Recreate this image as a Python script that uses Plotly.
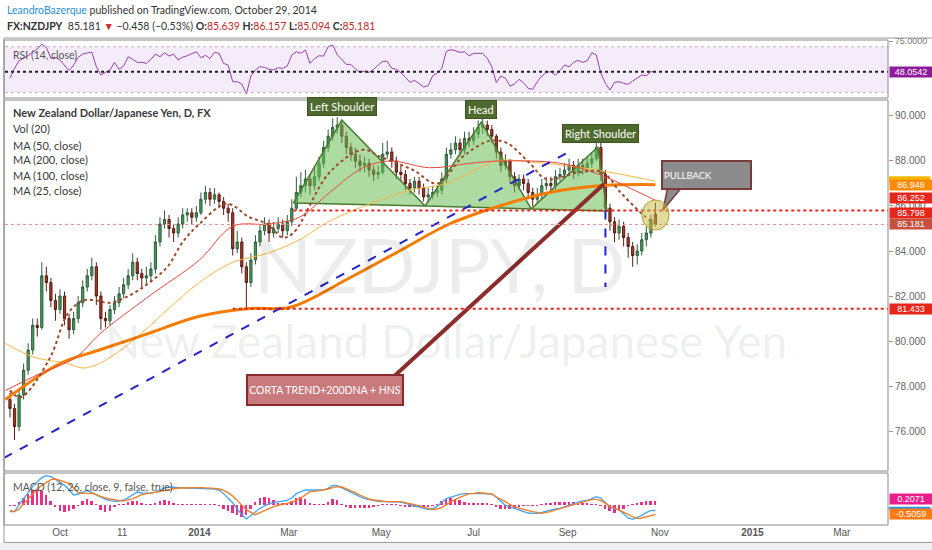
import pandas as pd
import plotly.graph_objects as go

# ---------------- data ----------------
START = "2013-08-29"
N = 143
OPEN = [77.4, 77.0, 76.2, 77.6, 78.7, 79.6, 80.7, 80.6, 82.9, 82.6,
        81.8, 81.4, 82.0, 81.0, 80.5, 81.0, 81.7, 82.4, 82.9, 83.3,
        82.0, 81.0, 80.9, 81.4, 81.7, 82.1, 82.5, 82.9, 83.5, 83.0,
        82.8, 82.9, 83.2, 84.4, 85.2, 85.4, 85.0, 84.8, 85.2, 85.6,
        85.7, 85.5, 85.7, 86.3, 86.6, 86.3, 86.5, 86.2, 85.9, 85.7,
        84.1, 84.4, 83.3, 82.6, 83.6, 84.4, 84.9, 85.2, 84.8, 85.0,
        85.2, 84.9, 85.3, 85.9, 86.6, 86.9, 87.2, 86.9, 87.3, 87.9,
        88.6, 89.1, 89.5, 89.6, 89.1, 88.6, 88.3, 88.0, 87.8, 87.9,
        87.6, 87.4, 87.5, 88.3, 88.4, 88.0, 87.5, 87.4, 87.0, 86.8,
        87.1, 86.8, 86.4, 86.5, 86.6, 86.7, 87.2, 88.3, 88.5, 88.8,
        88.5, 89.0, 88.9, 89.2, 89.5, 89.6, 89.4, 89.1, 88.4, 87.8,
        88.0, 87.3, 86.9, 87.2, 87.0, 86.6, 86.3, 86.5, 86.9, 87.0,
        86.9, 87.3, 87.4, 87.6, 87.8, 87.5, 87.8, 87.7, 87.9, 88.1,
        88.6, 87.4, 85.9, 85.3, 84.8, 85.1, 84.6, 84.2, 83.8, 84.0,
        84.5, 84.8, 85.639]
HIGH = [77.7, 77.2, 77.8, 79.0, 79.9, 81.0, 81.0, 83.5, 83.3, 82.8,
        82.1, 82.3, 82.2, 81.2, 81.3, 82.0, 82.7, 83.2, 83.7, 83.5,
        82.2, 81.3, 81.6, 82.0, 82.4, 82.8, 83.2, 83.9, 83.7, 83.2,
        83.3, 83.5, 84.7, 85.5, 85.8, 85.6, 85.2, 85.5, 85.9, 85.9,
        85.9, 86.0, 86.6, 86.9, 86.8, 86.8, 86.6, 86.4, 86.1, 85.9,
        84.9, 84.6, 83.5, 83.9, 84.7, 85.2, 85.5, 85.4, 85.3, 85.5,
        85.4, 85.6, 86.3, 87.3, 87.5, 87.6, 87.4, 87.7, 88.2, 88.9,
        89.4, 89.9, 89.95, 89.8, 89.3, 88.8, 88.6, 88.3, 88.2, 88.1,
        87.8, 87.8, 88.8, 88.9, 88.6, 88.2, 87.8, 87.6, 87.2, 87.3,
        87.3, 87.0, 86.8, 86.9, 86.9, 87.5, 88.6, 88.8, 89.1, 89.0,
        89.3, 89.3, 89.5, 89.8, 89.9, 89.8, 89.6, 89.2, 88.6, 88.3,
        88.1, 87.5, 87.4, 87.4, 87.2, 86.8, 86.8, 87.2, 87.3, 87.3,
        87.6, 87.7, 87.9, 88.1, 88.0, 88.1, 88.1, 88.2, 88.4, 88.9,
        88.8, 87.6, 86.1, 85.5, 85.4, 85.3, 84.8, 84.4, 84.3, 84.8,
        85.1, 85.6, 86.157]
LOW = [76.6, 75.6, 76.0, 77.4, 78.5, 79.4, 80.2, 80.5, 82.2, 81.5,
       80.9, 81.2, 80.7, 80.1, 80.3, 80.8, 81.5, 82.2, 82.7, 81.6,
       80.5, 80.6, 80.7, 81.2, 81.5, 81.9, 82.3, 82.7, 82.7, 82.4,
       82.5, 82.6, 83.0, 84.2, 85.0, 84.6, 84.4, 84.6, 85.0, 85.3,
       85.2, 85.3, 85.6, 86.1, 86.0, 86.1, 85.9, 85.6, 85.3, 83.8,
       83.9, 83.0, 81.43, 82.4, 83.4, 84.2, 84.7, 84.4, 84.6, 84.8,
       84.6, 84.7, 85.1, 85.8, 86.4, 86.6, 86.5, 86.7, 87.1, 87.7,
       88.4, 88.9, 89.2, 88.8, 88.3, 88.0, 87.7, 87.5, 87.5, 87.3,
       87.1, 87.2, 87.4, 88.1, 87.7, 87.2, 87.1, 86.7, 86.5, 86.6,
       86.5, 86.2, 86.2, 86.3, 86.4, 86.5, 87.0, 88.1, 88.3, 88.2,
       88.3, 88.6, 88.7, 89.0, 89.2, 89.1, 88.8, 88.1, 87.5, 87.6,
       87.0, 86.6, 86.7, 86.7, 86.3, 86.0, 86.1, 86.3, 86.7, 86.6,
       86.7, 87.1, 87.2, 87.4, 87.2, 87.3, 87.4, 87.5, 87.7, 88.0,
       87.1, 85.6, 84.9, 84.4, 84.5, 84.2, 83.7, 83.3, 83.4, 83.8,
       84.2, 84.6, 85.094]
CLOSE = [77.0, 76.2, 77.6, 78.7, 79.6, 80.7, 80.6, 82.9, 82.6, 81.8,
         81.4, 82.0, 81.0, 80.5, 81.0, 81.7, 82.4, 82.9, 83.3, 82.0,
         81.0, 80.9, 81.4, 81.7, 82.1, 82.5, 82.9, 83.5, 83.0, 82.8,
         82.9, 83.2, 84.4, 85.2, 85.4, 85.0, 84.8, 85.2, 85.6, 85.7,
         85.5, 85.7, 86.3, 86.6, 86.3, 86.5, 86.2, 85.9, 85.7, 84.1,
         84.4, 83.3, 82.6, 83.6, 84.4, 84.9, 85.2, 84.8, 85.0, 85.2,
         84.9, 85.3, 85.9, 86.6, 86.9, 87.2, 86.9, 87.3, 87.9, 88.6,
         89.1, 89.5, 89.6, 89.1, 88.6, 88.3, 88.0, 87.8, 87.9, 87.6,
         87.4, 87.5, 88.3, 88.4, 88.0, 87.5, 87.4, 87.0, 86.8, 87.1,
         86.8, 86.4, 86.5, 86.6, 86.7, 87.2, 88.3, 88.5, 88.8, 88.5,
         89.0, 88.9, 89.2, 89.5, 89.6, 89.4, 89.1, 88.4, 87.8, 88.0,
         87.3, 86.9, 87.2, 87.0, 86.6, 86.3, 86.5, 86.9, 87.0, 86.9,
         87.3, 87.4, 87.6, 87.8, 87.5, 87.8, 87.7, 87.9, 88.1, 88.6,
         87.4, 85.9, 85.3, 84.8, 85.1, 84.6, 84.2, 83.8, 84.0, 84.5,
         84.8, 85.4, 85.181]

RSI = [42.3, 51.0, 57.7, 59.8, 62.1, 65.3, 68.0, 72.3, 69.4, 59.8,
       60.7, 58.3, 53.9, 49.0, 53.9, 60.7, 63.6, 64.2, 65.3, 52.5,
       45.2, 47.5, 49.6, 56.3, 50.1, 53.1, 61.2, 58.9, 56.3, 56.3,
       55.4, 58.9, 63.6, 61.2, 64.7, 61.8, 63.6, 58.3, 60.9, 62.1,
       64.2, 65.6, 60.4, 62.4, 59.8, 65.0, 64.2, 55.4, 53.9, 39.3,
       39.3, 37.3, 28.5, 44.3, 49.6, 52.5, 51.9, 50.1, 49.6, 51.6,
       51.0, 53.1, 62.7, 65.6, 64.2, 67.1, 55.4, 59.5, 62.1, 61.8,
       70.0, 71.5, 63.0, 58.9, 54.5, 54.5, 50.4, 47.5, 48.7, 47.5,
       50.1, 53.9, 57.2, 57.2, 51.0, 50.1, 47.2, 43.1, 38.7, 40.5,
       37.9, 34.7, 35.8, 44.6, 46.9, 51.0, 65.9, 67.4, 66.5, 65.0,
       65.6, 61.8, 64.2, 64.2, 64.2, 59.8, 52.5, 38.5, 44.3, 42.3,
       35.5, 37.3, 41.4, 38.5, 33.5, 32.6, 39.3, 44.3, 47.5, 48.1,
       45.2, 49.0, 53.9, 52.5, 56.3, 58.0, 56.3, 57.7, 64.7, 62.7,
       46.6, 37.9, 32.0, 38.7, 39.3, 37.9, 37.0, 39.9, 42.3, 45.2,
       44.6, 48.1, 48.0542]

MACD = [-0.36, -0.36, 0.018, 0.36, 0.684, 0.99, 1.26, 1.476, 1.584, 1.53,
        1.386, 1.224, 1.062, 0.81, 0.54, 0.594, 0.702, 0.792, 0.666, 0.54,
        0.432, 0.306, 0.234, 0.198, 0.216, 0.27, 0.396, 0.558, 0.702, 0.648,
        0.63, 0.63, 0.702, 0.81, 0.918, 0.972, 0.954, 0.918, 0.9, 0.9,
        0.9, 0.9, 0.9, 0.9, 0.9, 0.864, 0.81, 0.612, 0.36, 0.126,
        -0.216, -0.522, -0.756, -0.558, -0.36, -0.18, -0.054, 0.072, 0.126, 0.162,
        0.198, 0.252, 0.378, 0.612, 0.72, 0.81, 0.81, 0.81, 0.81, 0.81,
        0.9, 1.062, 1.044, 0.936, 0.81, 0.702, 0.576, 0.45, 0.342, 0.288,
        0.234, 0.198, 0.18, 0.18, 0.18, 0.18, 0.162, 0.09, 0.0, -0.054,
        -0.108, -0.18, -0.252, -0.198, -0.072, 0.144, 0.342, 0.432, 0.522, 0.576,
        0.612, 0.594, 0.612, 0.63, 0.63, 0.63, 0.594, 0.414, 0.216, -0.018,
        -0.108, -0.18, -0.27, -0.342, -0.432, -0.45, -0.45, -0.396, -0.324, -0.252,
        -0.216, -0.18, -0.09, 0.0, 0.09, 0.162, 0.216, 0.252, 0.342, 0.45,
        0.36, 0.144, -0.108, -0.198, -0.27, -0.468, -0.702, -0.774, -0.684, -0.558,
        -0.414, -0.288, -0.2988]
SIGNAL = [-0.288, -0.36, -0.216, 0.054, 0.342, 0.612, 0.846, 1.062, 1.224, 1.368,
          1.404, 1.332, 1.26, 1.17, 0.9, 0.684, 0.63, 0.63, 0.63, 0.558,
          0.45, 0.378, 0.324, 0.27, 0.234, 0.216, 0.27, 0.342, 0.45, 0.558,
          0.612, 0.63, 0.684, 0.738, 0.792, 0.846, 0.9, 0.918, 0.918, 0.936,
          0.936, 0.936, 0.936, 0.936, 0.918, 0.9, 0.864, 0.792, 0.666, 0.486,
          0.234, -0.018, -0.252, -0.396, -0.522, -0.414, -0.324, -0.198, -0.09, 0.0,
          0.054, 0.09, 0.162, 0.252, 0.378, 0.54, 0.72, 0.738, 0.774, 0.828,
          0.864, 0.936, 0.99, 0.972, 0.882, 0.792, 0.666, 0.54, 0.432, 0.324,
          0.27, 0.234, 0.198, 0.18, 0.18, 0.18, 0.18, 0.126, 0.09, 0.018,
          -0.054, -0.126, -0.198, -0.252, -0.216, -0.126, 0.018, 0.18, 0.306, 0.414,
          0.504, 0.612, 0.63, 0.666, 0.648, 0.63, 0.594, 0.432, 0.324, 0.18,
          0.018, -0.09, -0.18, -0.234, -0.306, -0.36, -0.396, -0.45, -0.396, -0.36,
          -0.27, -0.198, -0.09, -0.018, 0.018, 0.09, 0.18, 0.252, 0.306, 0.306,
          0.234, 0.09, -0.072, -0.162, -0.27, -0.396, -0.504, -0.648, -0.72, -0.702,
          -0.648, -0.576, -0.5059]
HIST = [-0.05, -0.05, 0.15, 0.4, 0.6, 0.81, 0.85, 0.75, 0.55, 0.2,
        -0.1, -0.3, -0.36, -0.33, -0.2, -0.05, 0.2, 0.3, 0.2, 0.02,
        -0.25, -0.36, -0.3, -0.1, 0.02, 0.05, 0.18, 0.23, 0.2, 0.1,
        0.05, 0.05, 0.08, 0.2, 0.27, 0.2, 0.08, 0.02, 0.02, 0.03,
        0.02, 0.03, 0.02, 0.03, 0.02, 0.02, -0.05, -0.2, -0.35, -0.45,
        -0.55, -0.63, -0.55, -0.2, 0.15, 0.38, 0.45, 0.38, 0.25, 0.12,
        0.1, 0.12, 0.2, 0.4, 0.45, 0.3, 0.08, 0.05, 0.05, 0.03,
        0.15, 0.3, 0.25, 0.05, -0.08, -0.14, -0.18, -0.18, -0.17, -0.14,
        -0.1, -0.05, 0.02, 0.02, 0.02, 0.01, -0.03, -0.06, -0.08, -0.09,
        -0.09, -0.08, -0.06, -0.03, 0.05, 0.2, 0.3, 0.36, 0.33, 0.25,
        0.15, 0.1, 0.1, 0.08, 0.08, 0.06, 0.02, -0.1, -0.2, -0.23,
        -0.2, -0.15, -0.08, -0.05, -0.05, -0.04, -0.03, 0.05, 0.1, 0.12,
        0.15, 0.15, 0.15, 0.15, 0.14, 0.12, 0.1, 0.08, 0.05, 0.02,
        -0.05, -0.2, -0.35, -0.41, -0.35, -0.2, -0.05, 0.05, 0.12, 0.18,
        0.2, 0.2, 0.2071]

MA200_DATES = ['2013-08-26', '2013-10-01', '2013-10-27', '2013-11-29', '2014-01-01', '2014-02-03',
               '2014-03-02', '2014-04-10', '2014-05-13', '2014-06-15', '2014-07-18', '2014-08-20',
               '2014-09-22', '2014-10-29']
MA200 = [77.4, 79.0, 79.6, 80.35, 81.1, 81.45, 81.5, 82.8, 84.0, 85.2, 86.0, 86.6, 86.9, 86.948]
MA100_DATES = ['2013-08-26', '2013-09-13', '2013-10-06', '2013-10-16', '2013-10-27', '2013-11-18',
               '2013-12-11', '2014-01-01', '2014-01-23', '2014-02-15', '2014-03-08', '2014-03-30',
               '2014-05-20', '2014-06-13', '2014-07-16', '2014-08-07', '2014-09-20', '2014-10-29']
MA100 = [79.9, 79.3, 79.0, 78.8, 79.0, 80.0, 81.4, 82.6, 83.5, 83.9, 84.5, 85.4, 86.7, 87.0, 88.0,
         87.96, 87.6, 87.1]
MA50_DATES = ['2013-08-26', '2013-09-13', '2013-10-12', '2013-10-27', '2013-11-29', '2014-01-01',
              '2014-01-23', '2014-02-15', '2014-03-08', '2014-03-28', '2014-04-19', '2014-05-07',
              '2014-06-02', '2014-06-29', '2014-07-18', '2014-08-27', '2014-09-22', '2014-10-12',
              '2014-10-29']
MA50 = [77.8, 78.4, 79.3, 80.3, 82.0, 83.6, 85.1, 85.2, 85.5, 86.6, 87.7, 88.0, 87.7, 87.9, 88.0,
        87.9, 87.4, 86.8, 86.252]
MA25_DATES = ['2013-08-29', '2013-09-05', '2013-09-24', '2013-10-06', '2013-10-16', '2013-10-25',
              '2013-11-03', '2013-11-18', '2013-11-29', '2013-12-11', '2013-12-21', '2014-01-01',
              '2014-01-19', '2014-02-03', '2014-02-15', '2014-02-25', '2014-03-04', '2014-03-28',
              '2014-04-19', '2014-04-30', '2014-05-22', '2014-06-07', '2014-06-24', '2014-07-12',
              '2014-07-23', '2014-08-07', '2014-08-18', '2014-09-09', '2014-09-24', '2014-10-06',
              '2014-10-21', '2014-10-29']
MA25 = [77.8, 77.5, 79.2, 81.2, 81.8, 81.8, 81.7, 82.1, 82.6, 83.3, 84.4, 85.2, 86.1, 85.5, 85.2,
        84.6, 84.8, 87.5, 88.5, 88.2, 87.6, 87.0, 88.2, 88.9, 88.8, 87.9, 87.2, 87.5, 87.5, 86.6,
        85.6, 85.2]

TREND_DATES = ['2013-08-25', '2014-09-02']
TREND_PRICES = [74.8, 88.41]
LS_DATES = ['2014-03-04', '2014-04-05', '2014-05-30']
LS_PRICES = [86.13, 89.82, 86.0]
HEAD_DATES = ['2014-05-30', '2014-07-06', '2014-08-08']
HEAD_PRICES = [86.0, 89.73, 85.87]
RS_DATES = ['2014-08-08', '2014-09-21', '2014-09-27']
RS_PRICES = [85.87, 88.62, 85.78]
NECK_LEVEL = 85.798
SUPPORT_LEVEL = 81.433
LAST_PRICE = 85.181

TICK_DATES = ['2013-10-01', '2013-11-11', '2014-01-01', '2014-03-01', '2014-05-01', '2014-07-01',
              '2014-09-01', '2014-11-01', '2015-01-01', '2015-03-01']
TICK_TEXT = ['Oct', '11', '<b>2014</b>', 'Mar', 'May', 'Jul', 'Sep', 'Nov', '<b>2015</b>', 'Mar']
PRICE_TICKS = [76, 78, 80, 82, 84, 86, 88, 90]

# ---------------- figure ----------------
DATES = pd.date_range(START, periods=N, freq='3D')
XR = ['2013-08-25 17:00', '2015-03-31 12:00']
NARROW = "Lato, Roboto, sans-serif"
REG = "Liberation Sans, Arial, sans-serif"

fig = go.Figure()

tri_style = dict(mode='lines', fill='toself', fillcolor='rgba(105,190,85,0.55)',
                 line=dict(color='#4a7a30', width=1.5), hoverinfo='skip', showlegend=False,
                 xaxis='x', yaxis='y2')
fig.add_trace(go.Scatter(x=LS_DATES + [LS_DATES[0]], y=LS_PRICES + [LS_PRICES[0]], **tri_style))
fig.add_trace(go.Scatter(x=HEAD_DATES + [HEAD_DATES[0]], y=HEAD_PRICES + [HEAD_PRICES[0]], **tri_style))
fig.add_trace(go.Scatter(x=RS_DATES + [RS_DATES[0]], y=RS_PRICES + [RS_PRICES[0]], **tri_style))

fig.add_trace(go.Scatter(x=MA100_DATES, y=MA100, mode='lines', line=dict(color='#f8b642', width=1, shape='spline'),
                         yaxis='y2', showlegend=False))
fig.add_trace(go.Scatter(x=MA200_DATES, y=MA200, mode='lines', line=dict(color='#f57c00', width=3, shape='spline'),
                         yaxis='y2', showlegend=False))
fig.add_trace(go.Scatter(x=MA50_DATES, y=MA50, mode='lines', line=dict(color='#e8453c', width=1, shape='spline'),
                         yaxis='y2', showlegend=False))
fig.add_trace(go.Scatter(x=MA25_DATES, y=MA25, mode='lines',
                         line=dict(color='#9c4a2a', width=2, dash='dot', shape='spline'),
                         yaxis='y2', showlegend=False))
fig.add_trace(go.Scatter(x=TREND_DATES, y=TREND_PRICES, mode='lines',
                         line=dict(color='#2424c8', width=2, dash='dash'), yaxis='y2', showlegend=False))

fig.add_trace(go.Candlestick(x=DATES, open=OPEN, high=HIGH, low=LOW, close=CLOSE, yaxis='y2',
                             increasing=dict(line=dict(color='#2f5f3b', width=1), fillcolor='#479a5a'),
                             decreasing=dict(line=dict(color='#5a1d14', width=1), fillcolor='#a33a27'),
                             whiskerwidth=0, showlegend=False))

# callout pointer lines / tails
fig.add_trace(go.Scatter(x=['2014-05-09', '2014-09-25'], y=[78.4, 86.98], mode='lines',
                         line=dict(color='#8b2d2d', width=4), yaxis='y2', showlegend=False))
fig.add_trace(go.Scatter(x=['2014-11-06', '2014-11-15', '2014-11-03', '2014-11-06'],
                         y=[86.8, 86.8, 85.82, 86.8], mode='lines', fill='toself', fillcolor='#8c8c8c',
                         line=dict(color='#7a3b3b', width=1.5), yaxis='y2', showlegend=False))

# RSI
fig.add_trace(go.Scatter(x=DATES, y=RSI, mode='lines', line=dict(color='#9a3fb0', width=1),
                         yaxis='y', showlegend=False))
# MACD
fig.add_trace(go.Bar(x=DATES, y=HIST, marker=dict(color='#e8308a', line=dict(width=0)),
                     width=86400000 * 1.3, yaxis='y3', showlegend=False))
fig.add_trace(go.Scatter(x=DATES, y=MACD, mode='lines', line=dict(color='#42a5f5', width=1.3),
                         yaxis='y3', showlegend=False))
fig.add_trace(go.Scatter(x=DATES, y=SIGNAL, mode='lines', line=dict(color='#f57c20', width=1.3),
                         yaxis='y3', showlegend=False))

shapes = []
# outer chart frame and bottom strip
shapes.append(dict(type='rect', xref='paper', yref='paper', x0=-0.06, x1=1.06, y0=-0.06, y1=-0.036,
                   fillcolor='#eef0f3', line=dict(width=0), layer='below'))
shapes.append(dict(type='rect', xref='paper', yref='paper', x0=-0.0012, x1=1.06, y0=-0.036, y1=1.0041,
                   fillcolor='rgba(0,0,0,0)', line=dict(color='#9a9a9a', width=1)))
# RSI band and levels
shapes.append(dict(type='rect', xref='paper', yref='y', x0=0, x1=1, y0=30, y1=70,
                   fillcolor='rgba(200,150,230,0.18)', line=dict(width=0), layer='below'))
for lv in (70, 30):
    shapes.append(dict(type='line', xref='paper', yref='y', x0=0, x1=1, y0=lv, y1=lv,
                       line=dict(color='#c4b0cc', width=1, dash='dot')))
shapes.append(dict(type='line', xref='paper', yref='y', x0=0, x1=1, y0=48.0542, y1=48.0542,
                   line=dict(color='#222', width=2, dash='dot')))
# price levels
shapes.append(dict(type='line', xref='paper', yref='y2', x0=0, x1=1, y0=LAST_PRICE, y1=LAST_PRICE,
                   line=dict(color='#ee8a8a', width=1, dash='dot')))
shapes.append(dict(type='line', xref='x', yref='y2', x0='2014-03-04', x1=XR[1], y0=NECK_LEVEL, y1=NECK_LEVEL,
                   line=dict(color='#e8251b', width=2, dash='dot')))
shapes.append(dict(type='line', xref='x', yref='y2', x0='2014-01-23', x1=XR[1], y0=SUPPORT_LEVEL, y1=SUPPORT_LEVEL,
                   line=dict(color='#e8251b', width=2, dash='dot')))
shapes.append(dict(type='line', xref='x', yref='y2', x0='2014-09-26', x1='2014-09-26', y0=85.8, y1=82.4,
                   line=dict(color='#2424c8', width=2, dash='dash')))
shapes.append(dict(type='circle', xref='x', yref='y2', x0='2014-10-20', x1='2014-11-07', y0=84.93, y1=86.27,
                   fillcolor='rgba(195,185,60,0.5)', line=dict(color='rgba(165,155,40,0.9)', width=1)))
# panel frames
for (y0, y1) in ((0.8804, 1.0), (0.1113, 0.8763), (0.0, 0.1072)):
    shapes.append(dict(type='rect', xref='paper', yref='paper', x0=-0.001, x1=1, y0=y0, y1=y1,
                       line=dict(color='#8a8a8a', width=1), fillcolor='rgba(0,0,0,0)'))
# partially hidden value strips on the right axis
shapes.append(dict(type='rect', xref='paper', yref='y2', x0=1.001, x1=1.048, y0=87.06, y1=87.32,
                   fillcolor='#f5b800', line=dict(width=0)))
shapes.append(dict(type='rect', xref='paper', yref='y3', x0=1.001, x1=1.048, y0=-0.10, y1=-0.26,
                   fillcolor='#2196f3', line=dict(width=0)))

ann = []
# header
ann.append(dict(xref='paper', yref='paper', x=0, y=1.062, xanchor='left', yanchor='middle', showarrow=False,
                text="<span style='color:#2a8fd6'>LeandroBazerque</span> published on TradingView.com, October 29, 2014",
                font=dict(family=NARROW, size=10.5, color='#333')))
ann.append(dict(xref='paper', yref='paper', x=0, y=1.029, xanchor='left', yanchor='middle', showarrow=False,
                text="<b>FX:NZDJPY</b>  85.181 <span style='color:#d32f2f'>▼</span> −0.458 (−0.53%) "
                     "<b>O:</b><span style='color:#c62828'>85.639</span> <b>H:</b><span style='color:#c62828'>86.157</span> "
                     "<b>L:</b><span style='color:#c62828'>85.094</span> <b>C:</b><span style='color:#c62828'>85.181</span>",
                font=dict(family=NARROW, size=10.5, color='#333')))
# watermark
ann.append(dict(xref='paper', yref='paper', x=0.4926, y=0.540, showarrow=False, text='NZDJPY, D',
                font=dict(family=NARROW, size=76, color='rgba(0,0,0,0.075)')))
ann.append(dict(xref='paper', yref='paper', x=0.4994, y=0.381, showarrow=False,
                text='New Zealand Dollar/Japanese Yen',
                font=dict(family=NARROW, size=46, color='rgba(0,0,0,0.075)')))
# legend-like texts
leg = [("<b>New Zealand Dollar/Japanese Yen, D, FX</b>", 0.8495), ("Vol (20)", 0.8165),
       ("MA (50, close)", 0.7835), ("MA (200, close)", 0.7526), ("MA (100, close)", 0.7216),
       ("MA (25, close)", 0.6907)]
for t, yy in leg:
    ann.append(dict(xref='paper', yref='paper', x=0.0068, y=yy, xanchor='left', yanchor='middle',
                    showarrow=False, text=t, font=dict(family=NARROW, size=11, color='#3a3a3a')))
ann.append(dict(xref='paper', yref='paper', x=0.0068, y=0.969, xanchor='left', yanchor='middle',
                showarrow=False, text='RSI (14, close)', font=dict(family=NARROW, size=10.5, color='#555')))
ann.append(dict(xref='paper', yref='paper', x=0.0068, y=0.0784, xanchor='left', yanchor='middle',
                showarrow=False, text='MACD (12, 26, close, 9, false, true)',
                font=dict(family=NARROW, size=10.5, color='#555')))
# pattern labels
for txt, xd, yp in (("Left Shoulder", '2014-04-05', 90.44), ("Head", '2014-07-06', 90.31),
                    ("Right Shoulder", '2014-09-23', 89.2)):
    ann.append(dict(xref='x', yref='y2', x=xd, y=yp, showarrow=False, text=txt,
                    bgcolor='#4f6a2e', bordercolor='#3e5522', borderwidth=1, borderpad=2,
                    font=dict(family=NARROW, size=11, color='white')))
# callouts
ann.append(dict(xref='x', yref='y2', x='2014-03-25', y=77.82, showarrow=False,
                text='CORTA TREND+200DNA + HNS', width=152, height=26,
                bgcolor='#c97a7c', bordercolor='#8a2a2a', borderwidth=2,
                font=dict(family=NARROW, size=10.5, color='white')))
ann.append(dict(xref='x', yref='y2', x='2014-12-02', y=87.38, showarrow=False,
                text='PULLBACK', width=85, height=24, align='left',
                bgcolor='#8c8c8c', bordercolor='#7a3b3b', borderwidth=2,
                font=dict(family=NARROW, size=9.5, color='white')))
# right axis value labels
labels = [(86.948, '86.948', '#ff8a00', 'y2', 0), (86.252, '86.252', '#e8251b', 'y2', 2),
          (85.798, '85.798', '#e8251b', 'y2', -2), (85.181, '85.181', '#c9503f', 'y2', 0),
          (81.433, '81.433', '#e8251b', 'y2', 0), (48.0542, '48.0542', '#8e1a9c', 'y', 0),
          (0.2071, '0.2071', '#e91e8c', 'y3', 2), (-0.5059, '-0.5059', '#ff7a10', 'y3', 0)]
for v, t, c, ya, ys in labels:
    ann.append(dict(xref='paper', yref=ya, x=1.0, y=v, xanchor='left', yanchor='middle', xshift=1,
                    yshift=ys, showarrow=False, text=t, width=42, height=10,
                    bgcolor=c, borderpad=0, font=dict(family=REG, size=9, color='white')))

fig.update_layout(
    width=932, height=550, margin=dict(l=5, r=44, t=40, b=25),
    paper_bgcolor='white', plot_bgcolor='white', showlegend=False,
    font=dict(family=REG, size=10, color='#555'),
    bargap=0,
    xaxis=dict(domain=[0, 1], range=XR, type='date', anchor='y3', tickvals=TICK_DATES, ticktext=TICK_TEXT,
               showgrid=False, zeroline=False, showline=False, ticks='', tickfont=dict(size=10, color='#555'),
               rangeslider=dict(visible=False)),
    yaxis=dict(domain=[0.8804, 1.0], range=[25.0, 75.9], side='right', anchor='x', tickvals=[75],
               ticktext=['75.0000'], showgrid=False, zeroline=False, ticks='outside', ticklen=4,
               tickcolor='#999', tickfont=dict(size=9, color='#777')),
    yaxis2=dict(domain=[0.1113, 0.8763], range=[74.222, 90.711], side='right', anchor='x',
                tickvals=PRICE_TICKS, tickformat='.3f', showgrid=False, zeroline=False, ticks='outside',
                ticklen=4, tickcolor='#999', tickfont=dict(size=10, color='#666')),
    yaxis3=dict(domain=[0.0, 0.1072], range=[-1.08, 1.728], side='right', anchor='x',
                showticklabels=False, showgrid=False, zeroline=False),
    shapes=shapes, annotations=ann,
)

fig.write_html("out.html", config={'displayModeBar': False},
               post_script="document.body.style.margin='0px';")
